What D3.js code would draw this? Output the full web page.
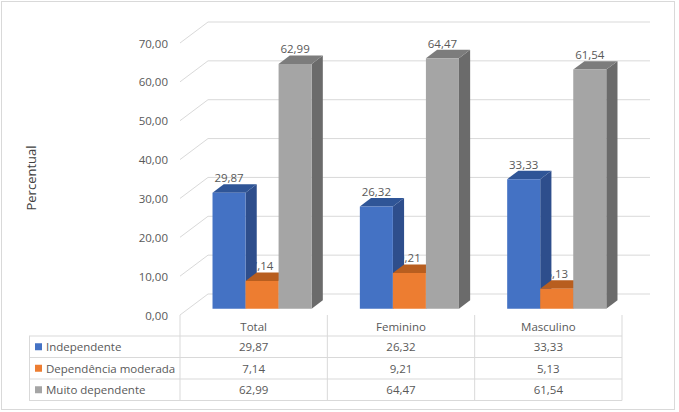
<!DOCTYPE html>
<html>
<head>
<meta charset="utf-8">
<script src="https://cdn.jsdelivr.net/npm/d3@7"></script>
<style>
  html, body { margin: 0; padding: 0; background: #fff; }
  svg { display: block; }
  text { font-family: "Open Sans", "Noto Sans", sans-serif; }
</style>
</head>
<body>
<svg id="chart" width="679" height="412"></svg>
<script>
const categories = ["Total", "Feminino", "Masculino"];
const seriesNames = ["Independente", "Dependência moderada", "Muito dependente"];
const independente = [29.87, 26.32, 33.33];
const dependenciaModerada = [7.14, 9.21, 5.13];
const muitoDependente = [62.99, 64.47, 61.54];
const yTicks = [0, 10, 20, 30, 40, 50, 60, 70];
const yTitle = "Percentual";

const seriesValues = [independente, dependenciaModerada, muitoDependente];
const colors = [
  { front: "#4472C4", side: "#2E4E8C", top: "#2F5597" },
  { front: "#ED7D31", side: "#A9561F", top: "#B85E1F" },
  { front: "#A5A5A5", side: "#6B6B6B", top: "#7C7C7C" }
];

const FS = 11.5;
const fmt = v => v.toFixed(2).replace(".", ",");
const svg = d3.select("#chart");

// Outer border
svg.append("rect").attr("x", 1.5).attr("y", 1.5).attr("width", 673).attr("height", 408)
  .attr("fill", "#fff").attr("stroke", "#d9d9d9");

// Scales (front plane)
const plotLeft = 180, plotRight = 622;
const y = d3.scaleLinear().domain([0, 70]).range([315, 43]);
const x0 = d3.scaleBand().domain(categories).range([plotLeft, plotRight]).paddingInner(0).paddingOuter(0);
const x1 = d3.scaleBand().domain(seriesNames).range([0, x0.bandwidth()]).paddingInner(0).paddingOuter(0.73);

// Depth projection
const DX = 28, DY = -21;
const P = (x, v, d) => [x + d * DX, y(v) + d * DY];
const dFront = 0.3, dBack = 0.7;

// Gridlines (side wall + back wall)
const grid = svg.append("g");
yTicks.forEach(t => {
  const a = P(plotLeft, t, 0), b = P(plotLeft, t, 1), c = P(plotRight, t, 1);
  grid.append("path")
    .attr("d", `M${a[0]},${a[1]}L${b[0]},${b[1]}L${c[0]},${c[1]}`)
    .attr("fill", "none").attr("stroke", "#d9d9d9").attr("stroke-width", 1);
});

// Y tick labels
svg.append("g").selectAll("text").data(yTicks).join("text")
  .attr("x", 168).attr("y", d => y(d))
  .attr("text-anchor", "end").attr("dominant-baseline", "central")
  .attr("font-size", FS).attr("fill", "#595959")
  .text(d => fmt(d));

// Y axis title
svg.append("text")
  .attr("transform", "translate(31,178) rotate(-90)")
  .attr("text-anchor", "middle").attr("dominant-baseline", "central")
  .attr("font-size", 13).attr("fill", "#404040")
  .text(yTitle);

// Data labels (drawn before bars, as in the reference where bars occlude them)
const labels = svg.append("g");
categories.forEach((cat, ci) => {
  seriesNames.forEach((s, si) => {
    const v = seriesValues[si][ci];
    const xl = x0(cat) + x1(s);
    const [px, py] = P(xl + x1.bandwidth() / 2, v, dFront);
    labels.append("text")
      .attr("x", px).attr("y", py - 15)
      .attr("text-anchor", "middle").attr("dominant-baseline", "central")
      .attr("font-size", FS).attr("fill", "#595959")
      .text(fmt(v));
  });
});

// Bars
const bars = svg.append("g");
const poly = pts => "M" + pts.map(p => p.join(",")).join("L") + "Z";
categories.forEach((cat, ci) => {
  seriesNames.forEach((s, si) => {
    const v = seriesValues[si][ci];
    const xl = x0(cat) + x1(s), xr = xl + x1.bandwidth();
    const c = colors[si];
    const g = bars.append("g");
    g.append("path").attr("d", poly([P(xr, 0, dFront), P(xr, 0, dBack), P(xr, v, dBack), P(xr, v, dFront)]))
      .attr("fill", c.side);
    g.append("path").attr("d", poly([P(xl, v, dFront), P(xr, v, dFront), P(xr, v, dBack), P(xl, v, dBack)]))
      .attr("fill", c.top);
    g.append("path").attr("d", poly([P(xl, 0, dFront), P(xr, 0, dFront), P(xr, v, dFront), P(xl, v, dFront)]))
      .attr("fill", c.front);
  });
});

// Data table
const tbl = svg.append("g");
const tableLeft = 29;
const rowLines = [336, 357.5, 379, 400.5];
const lineColor = "#d9d9d9";
rowLines.forEach(ry => {
  tbl.append("line").attr("x1", tableLeft).attr("x2", plotRight).attr("y1", ry).attr("y2", ry)
    .attr("stroke", lineColor);
});
tbl.append("line").attr("x1", tableLeft + 0.5).attr("x2", tableLeft + 0.5).attr("y1", 336).attr("y2", 400.5).attr("stroke", lineColor);
const colEdges = [plotLeft, ...categories.map(c => x0(c) + x0.bandwidth())];
colEdges.forEach(cx => {
  tbl.append("line").attr("x1", cx).attr("x2", cx).attr("y1", 315).attr("y2", 400.5).attr("stroke", lineColor);
});
categories.forEach(cat => {
  tbl.append("text").attr("x", x0(cat) + x0.bandwidth() / 2).attr("y", 326.5)
    .attr("text-anchor", "middle").attr("dominant-baseline", "central")
    .attr("font-size", FS).attr("fill", "#595959").text(cat);
});
seriesNames.forEach((s, si) => {
  const cy = (rowLines[si] + rowLines[si + 1]) / 2;
  tbl.append("rect").attr("x", 35).attr("y", cy - 3.5).attr("width", 7).attr("height", 7)
    .attr("fill", colors[si].front);
  tbl.append("text").attr("x", 46).attr("y", cy)
    .attr("dominant-baseline", "central").attr("font-size", FS).attr("fill", "#595959").text(s);
  categories.forEach((cat, ci) => {
    tbl.append("text").attr("x", x0(cat) + x0.bandwidth() / 2).attr("y", cy)
      .attr("text-anchor", "middle").attr("dominant-baseline", "central")
      .attr("font-size", FS).attr("fill", "#595959").text(fmt(seriesValues[si][ci]));
  });
});
</script>
</body>
</html>
